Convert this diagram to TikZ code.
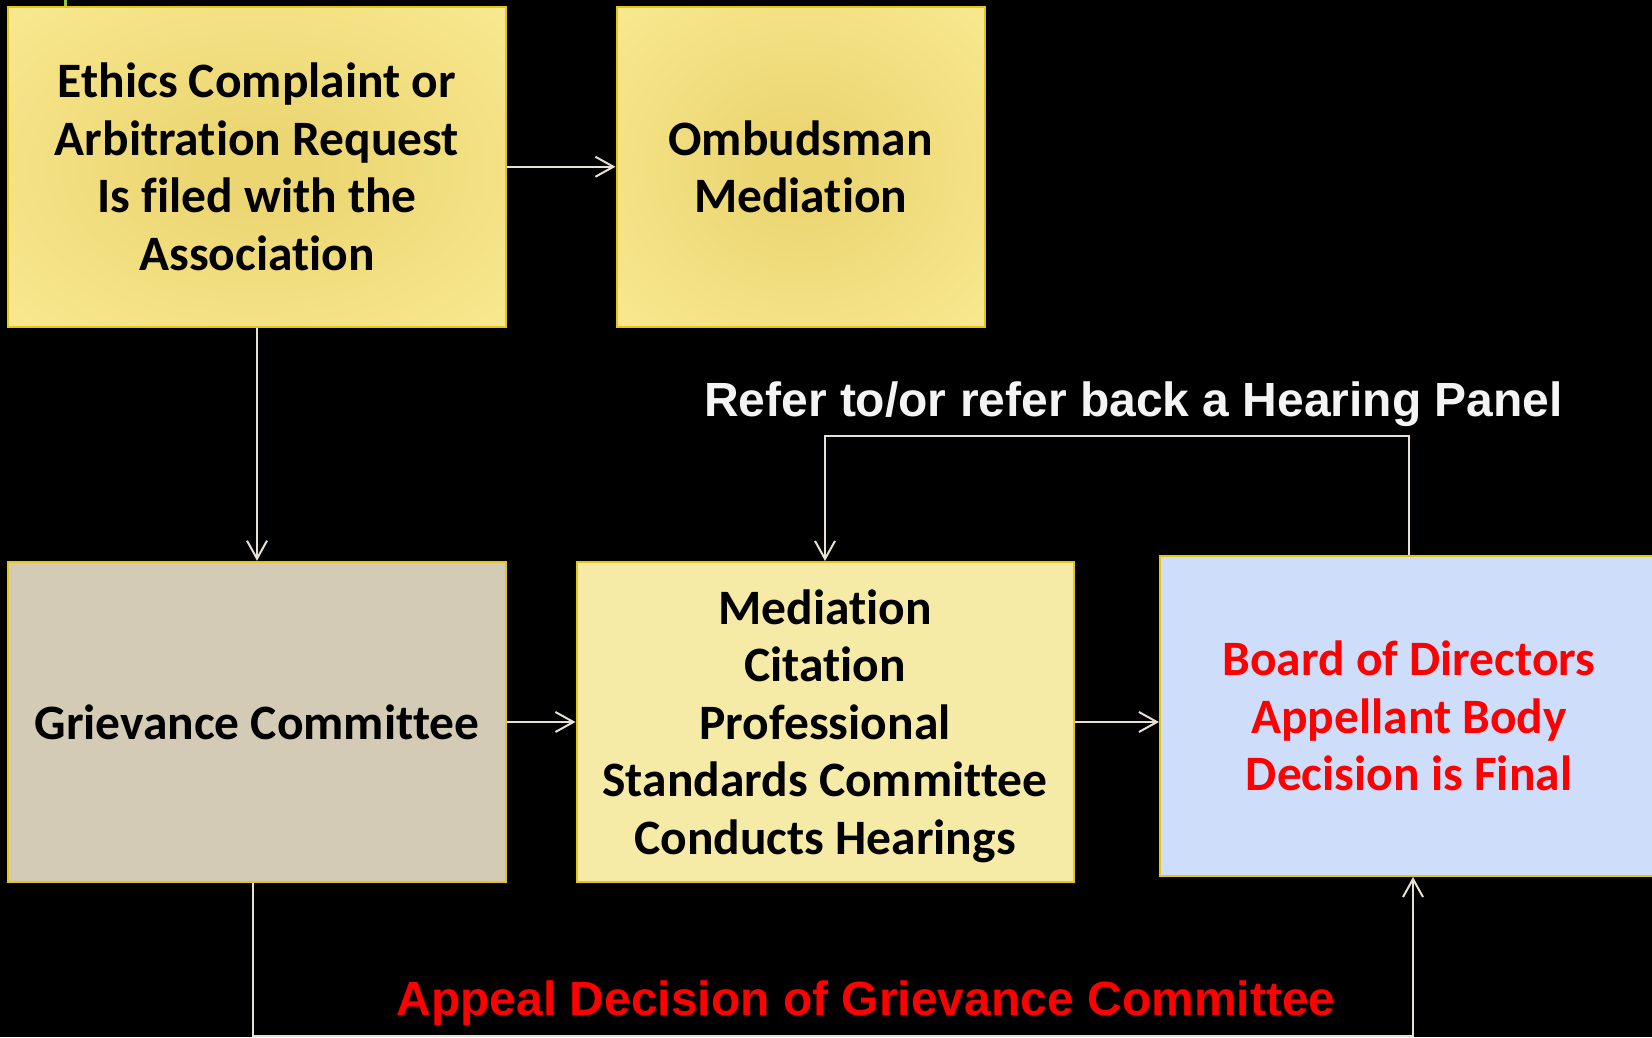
\documentclass[tikz,border=0pt]{standalone}
\usepackage{fontspec}
\usetikzlibrary{arrows.meta}
\newfontfamily\boxfont{Carlito}[Ligatures={NoCommon}]
\newfontfamily\lblfont{Liberation Sans}
\definecolor{glowin}{HTML}{EBD672}
\definecolor{glowout}{HTML}{FFF09C}
\definecolor{bordery}{HTML}{E3C61C}
\definecolor{grievfill}{HTML}{D3CBB5}
\definecolor{medfill}{HTML}{F5EBA6}
\definecolor{boardfill}{HTML}{CEDEFA}
\definecolor{linec}{HTML}{E6E1D2}
\definecolor{labelw}{HTML}{F4F4F4}
\definecolor{tipgreen}{HTML}{8DC63F}
\pgfdeclareradialshading{glow}{\pgfpoint{0bp}{0bp}}{color(0bp)=(glowin); color(6bp)=(glowin); color(48bp)=(glowout); color(100bp)=(glowout)}
\tikzset{
  boxnode/.style={draw=bordery, line width=2pt, inner sep=0pt, align=center,
    font=\boxfont\bfseries\fontsize{49.5}{57.4}\selectfont},
  glowbox/.style={boxnode, shade, shading=glow},
  conn/.style={draw=linec, line width=2pt, -{Straight Barb[length=18pt,width=20pt]}},
  lbl/.style={anchor=base, inner sep=0pt, font=\lblfont\bfseries\fontsize{48}{56}\selectfont}
}
\begin{document}
\begin{tikzpicture}[x=1pt,y=-1pt]
\useasboundingbox (0,0) rectangle (1652,1037);
\clip (0,0) rectangle (1652,1037);
\fill[black] (0,0) rectangle (1652,1037);
\draw[tipgreen, line width=3pt] (65,0) -- (65,6);
\node[glowbox, minimum width=498pt, minimum height=320.5pt] (A) at (257,166.75)
  {Ethics Complaint or\\Arbitration Request\\Is filed with the\\Association};
\node[glowbox, minimum width=368.5pt, minimum height=320.5pt] (B) at (800.75,166.75)
  {Ombudsman\\Mediation};
\node[boxnode, fill=grievfill, minimum width=498pt, minimum height=320.5pt] (C) at (257,722)
  {Grievance Committee};
\node[boxnode, fill=medfill, minimum width=497pt, minimum height=320pt] (D) at (825,722)
  {Mediation\\Citation\\Professional\\Standards Committee\\\smash{Conducts Hearings}};
\node[boxnode, fill=boardfill, text=red, minimum width=498pt, minimum height=320pt] (E) at (1409,716)
  {Board of Directors\\Appellant Body\\Decision is Final};
\node[lbl, text=labelw] (refer) at (1133.5,416) {Refer to/or refer back a Hearing Panel};
\node[lbl, text=red] (appeal) at (866,1015) {Appeal Decision of Grievance Committee};
\coordinate (rtop) at (0,436);
\coordinate (ybot) at (0,1036);
\draw[conn] (A.east) -- (B.west |- A.east);
\draw[conn] (A.south) -- (C.north);
\draw[conn] (C.east) -- (D.west);
\draw[conn] (D.east) -- (D.east -| E.west);
\draw[conn] (E.north) |- (D.north |- rtop) -- (D.north);
\draw[conn] ([xshift=-4pt]C.south) |- ([xshift=4pt]E.south |- ybot) -- ([xshift=4pt]E.south);
\end{tikzpicture}
\end{document}
